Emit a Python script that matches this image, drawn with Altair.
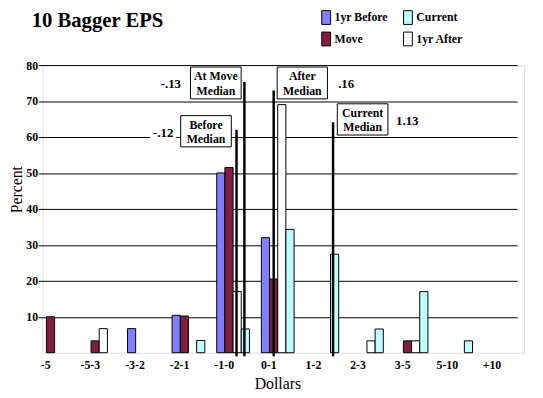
import altair as alt
import pandas as pd

# ---------------- data ----------------
categories = ["-5", "-5-3", "-3-2", "-2-1", "-1-0", "0-1", "1-2", "2-3", "3-5", "5-10", "+10"]
series = ["1yr Before", "Move", "1yr After", "Current"]
legend_order = ["1yr Before", "Current", "Move", "1yr After"]
legend_colors = ["#8080FF", "#C0FFFF", "#7F1F3F", "#FFFFFF"]

before = [None, None, 6.7, 10.4, 50.0, 32.0, None, None, None, None, None]
move = [10.0, 3.3, None, 10.2, 51.5, 20.5, None, None, 3.3, None, None]
after = [None, 6.7, None, None, 17.0, 69.0, None, 3.3, 3.3, None, None]
current = [None, None, None, 3.4, 6.6, 34.3, 27.4, 6.6, 17.0, 3.3, None]

median_labels = ["Before\nMedian", "At Move\nMedian", "After\nMedian", "Current\nMedian"]
median_values = ["-.12", "-.13", ".16", "1.13"]
median_cats = ["-1-0", "-1-0", "0-1", "1-2"]
median_tops = [62.0, 75.3, 72.9, 64.1]

rows = []
for s, vals in zip(series, [before, move, after, current]):
    for c, v in zip(categories, vals):
        if v is not None:
            rows.append({"cat": c, "series": s, "pct": v})
bars_df = pd.DataFrame(rows)

# ---------------- layout / style ----------------
FONT = "Liberation Serif"
W, H = 489, 292
LH = 14.5
median_band = [0.605, 0.846, 0.377, 0.828]
# annotation boxes in plot-pixel space: (text, x0, x1, y0, y1, border, size, lines)
boxes = [
    (median_labels[1], 150.3, 201.7, 2, 34.3, True, 12, 2),
    (median_values[1], 117, 143.7, 12, 25.3, False, 13, 1),
    (median_labels[0], 140.3, 191.7, 51.3, 83, True, 12, 2),
    (median_values[0], 109.7, 135.3, 62, 76, False, 13, 1),
    (median_labels[2], 238.3, 289.3, 2, 34.3, True, 12, 2),
    (median_values[2], 297.3, 319.3, 12, 26.3, False, 13, 1),
    (median_labels[3], 299.3, 350.7, 39.3, 71, True, 12, 2),
    (median_values[3], 356, 384.7, 48.7, 63.7, False, 13, 1),
]
box_df = pd.DataFrame([
    {"text": t, "x0": x0, "x1": x1, "y0": y0, "y1": y1,
     "stroke": "black" if b else "white", "fs": fs,
     "tx": (x0 + x1) / 2, "ty": (y0 + y1) / 2 + 0.5 - (n - 1) * LH / 2}
    for t, x0, x1, y0, y1, b, fs, n in boxes
])

x_scale = alt.Scale(domain=categories, range=[-4.3, 481.9], paddingInner=0.267, paddingOuter=0)

bars = alt.Chart(bars_df).mark_bar(stroke="black", strokeWidth=1).encode(
    x=alt.X("cat:N", sort=categories, scale=x_scale,
            axis=alt.Axis(title="Dollars", labelAngle=0, ticks=False, domain=False,
                          labelOffset=-9, labelPadding=7, labelFont=FONT, labelFontSize=12,
                          labelFontWeight="bold", labelColor="black",
                          titleFont=FONT, titleFontSize=16, titleFontWeight="normal",
                          titleColor="black", titleX=238.5, titleY=36,
                          titleBaseline="alphabetic", titleAnchor="start", titleAlign="center")),
    xOffset=alt.XOffset("series:N", scale=alt.Scale(domain=series, paddingInner=0, paddingOuter=0)),
    y=alt.Y("pct:Q", scale=alt.Scale(domain=[0, 80], nice=False),
            axis=alt.Axis(values=list(range(10, 90, 10)), grid=True, gridColor="black",
                          gridWidth=1, gridOpacity=1, ticks=False, domain=False,
                          labelPadding=5, labelFont=FONT, labelFontSize=12,
                          labelFontWeight="bold", labelColor="black",
                          title="Percent", titleFont=FONT, titleFontSize=16,
                          titleFontWeight="normal", titleColor="black",
                          titleX=-26, titleY=126, titleAngle=-90,
                          titleBaseline="middle", titleAlign="center")),
    color=alt.Color("series:N", scale=alt.Scale(domain=legend_order, range=legend_colors),
                    legend=alt.Legend(orient="none", legendX=280.5, legendY=-56, columns=2,
                                      title=None, direction="horizontal",
                                      symbolType="M-0.64,-1H0.64V1H-0.64Z", symbolSize=196,
                                      symbolStrokeColor="black", symbolStrokeWidth=1,
                                      symbolOpacity=1,
                                      labelFont=FONT, labelFontSize=12, labelFontWeight="bold",
                                      labelColor="black", labelOffset=1,
                                      columnPadding=12, rowPadding=3, padding=0)),
)

layers = [bars]

for cat, top, band in zip(median_cats, median_tops, median_band):
    df = pd.DataFrame({"cat": [cat], "top": [top], "bottom": [-1.0]})
    layers.append(
        alt.Chart(df).mark_rule(color="black", strokeWidth=2.5).encode(
            x=alt.X("cat:N", sort=categories, scale=x_scale, bandPosition=band),
            y=alt.Y("top:Q"),
            y2="bottom:Q",
        )
    )

box_rects = alt.Chart(box_df).mark_rect(fill="#FFFFFF", fillOpacity=1, strokeWidth=1).encode(
    x=alt.X("x0:Q", scale=None, axis=None), x2="x1:Q",
    y=alt.Y("y0:Q", scale=None, axis=None), y2="y1:Q",
    stroke=alt.Stroke("stroke:N", scale=None, legend=None),
)
box_texts = alt.Chart(box_df).mark_text(font=FONT, fontWeight="bold", color="black",
                                        align="center", baseline="middle", lineBreak="\n",
                                        lineHeight=LH).encode(
    x=alt.X("tx:Q", scale=None, axis=None),
    y=alt.Y("ty:Q", scale=None, axis=None),
    size=alt.Size("fs:Q", scale=None, legend=None),
    text="text:N",
)
layers += [box_rects, box_texts]

one = pd.DataFrame({"k": [0]})
layers.append(
    alt.Chart(one).mark_text(font=FONT, fontSize=21, fontWeight="bold", color="black",
                             align="left", baseline="alphabetic").encode(
        x=alt.value(-11), y=alt.value(-39), text=alt.value("10 Bagger EPS"))
)

chart = alt.layer(*layers).properties(
    width=W, height=H,
    autosize=alt.AutoSizeParams(type="none"),
    padding={"left": 35, "top": 55, "right": 11, "bottom": 42},
).configure_view(fill="#A0A080", stroke="#505040", strokeWidth=1).configure(background="white")

chart.save("out.html", embed_options={"renderer": "svg", "actions": False})
